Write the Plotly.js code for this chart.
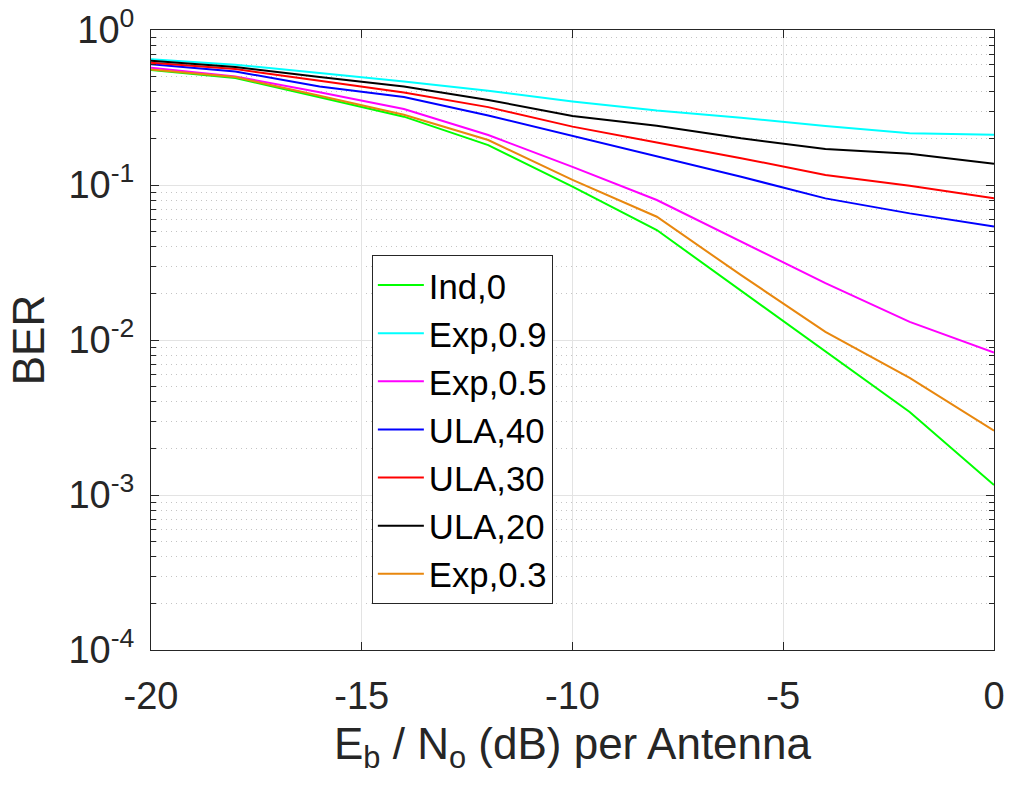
<!DOCTYPE html>
<html>
<head>
<meta charset="utf-8">
<script src="https://cdn.plot.ly/plotly-3.0.1.min.js"></script>
<style>
  html, body { margin: 0; padding: 0; background: #fff; }
  #chart { width: 1014px; height: 787px; }
</style>
</head>
<body>
<div id="chart"></div>
<script>
// Eb/No (dB) per antenna
const ebno = [-20, -18, -16, -14, -12, -10, -8, -6, -4, -2, 0];

// BER series
const ind0   = [0.552, 0.490, 0.368, 0.276, 0.181, 0.0975, 0.0512, 0.0207, 0.0084, 0.00343, 0.00116];
const exp09  = [0.647, 0.597, 0.527, 0.465, 0.405, 0.346, 0.302, 0.272, 0.240, 0.216, 0.211];
const exp05  = [0.571, 0.501, 0.397, 0.309, 0.210, 0.131, 0.080, 0.043, 0.0233, 0.0131, 0.0083];
const ula40  = [0.601, 0.540, 0.432, 0.369, 0.281, 0.207, 0.152, 0.113, 0.082, 0.0656, 0.054];
const ula30  = [0.615, 0.560, 0.470, 0.395, 0.318, 0.238, 0.188, 0.149, 0.116, 0.099, 0.082];
const ula20  = [0.634, 0.577, 0.497, 0.432, 0.354, 0.279, 0.241, 0.200, 0.171, 0.159, 0.137];
const exp03  = [0.557, 0.497, 0.376, 0.284, 0.195, 0.108, 0.0624, 0.0262, 0.0113, 0.0057, 0.0026];

const seriesNames = ["Ind,0", "Exp,0.9", "Exp,0.5", "ULA,40", "ULA,30", "ULA,20", "Exp,0.3"];
const seriesData  = [ind0, exp09, exp05, ula40, ula30, ula20, exp03];
const seriesColors = ["#00ff00", "#00ffff", "#ff00ff", "#0000ff", "#ff0000", "#000000", "#e8870e"];

// Axis ticks
const yTickVals = [1, 0.1, 0.01, 0.001, 0.0001];
const yTickText = ["10<sup>0</sup>", "10<sup>-1</sup>", "10<sup>-2</sup>", "10<sup>-3</sup>", "10<sup>-4</sup>"];
const xTickVals = [-20, -15, -10, -5, 0];
const xTickText = ["-20", "-15", "-10", "-5", "0"];

const FONT = "'Liberation Sans', Arial, Helvetica, sans-serif";
const AXC = "#262626";

const traces = seriesNames.map((name, i) => ({
  type: "scatter",
  mode: "lines",
  name: name,
  x: ebno,
  y: seriesData[i],
  line: { color: seriesColors[i], width: 2 }
}));

const layout = {
  width: 1014,
  height: 787,
  paper_bgcolor: "#ffffff",
  plot_bgcolor: "#ffffff",
  margin: { l: 151, r: 20, t: 30, b: 137 },
  font: { family: FONT, color: AXC },
  showlegend: true,
  legend: {
    x: 0.262, y: 0.637, xanchor: "left", yanchor: "top",
    bgcolor: "#ffffff",
    bordercolor: AXC,
    borderwidth: 1,
    itemwidth: 46,
    font: { family: FONT, size: 34.7, color: "#000000" },
    tracegroupgap: 0
  },
  xaxis: {
    range: [-20, 0],
    tickmode: "array",
    tickvals: xTickVals,
    ticktext: xTickText,
    ticks: "inside",
    ticklen: 8,
    tickcolor: AXC,
    showline: true,
    linecolor: AXC,
    linewidth: 1,
    mirror: "ticks",
    showgrid: true,
    gridcolor: "#e3e3e3",
    gridwidth: 1,
    zeroline: false,
    tickfont: { family: FONT, size: 38, color: AXC },
    ticklabelstandoff: 12,
    title: {
      text: "E<sub>b</sub> / N<sub>o</sub> (dB) per Antenna",
      font: { family: FONT, size: 44, color: AXC },
      standoff: 12
    }
  },
  yaxis: {
    type: "log",
    range: [-4, 0],
    tickmode: "array",
    tickvals: yTickVals,
    ticktext: yTickText,
    ticks: "inside",
    ticklen: 8,
    tickcolor: AXC,
    showline: true,
    linecolor: AXC,
    linewidth: 1,
    mirror: "ticks",
    showgrid: true,
    gridcolor: "#e3e3e3",
    gridwidth: 1,
    zeroline: false,
    tickfont: { family: FONT, size: 38, color: AXC },
    ticklabelstandoff: 8,
    minor: {
      dtick: "D1",
      ticks: "inside",
      ticklen: 5,
      tickcolor: AXC,
      showgrid: true,
      gridcolor: "#c4c4c4",
      griddash: "1px,4px",
      gridwidth: 1
    },
    title: {
      text: "BER",
      font: { family: FONT, size: 44, color: AXC },
      standoff: 10
    }
  }
};

Plotly.newPlot("chart", traces, layout, { displayModeBar: false, staticPlot: true });
</script>
</body>
</html>
